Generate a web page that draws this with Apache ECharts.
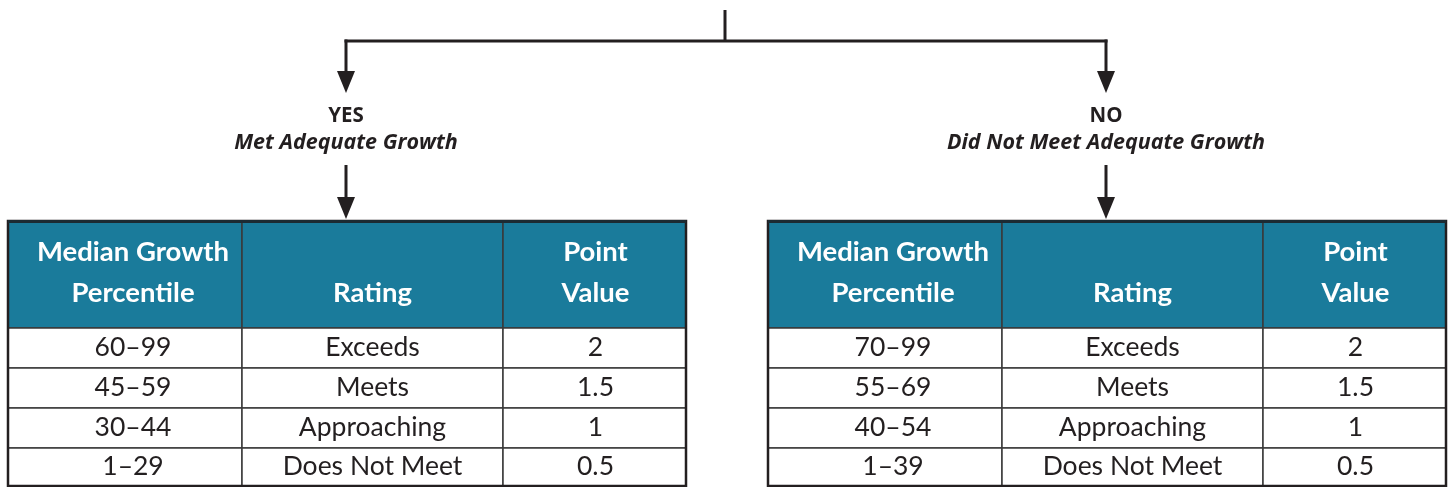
<!DOCTYPE html>
<html>
<head>
<meta charset="utf-8">
<script src="https://cdn.jsdelivr.net/npm/echarts@6/dist/echarts.min.js"></script>
<style>
  html, body { margin: 0; padding: 0; background: #fff; }
  #main { width: 1448px; height: 487px; }
</style>
</head>
<body>
<div id="main"></div>
<script>
// data
var branchAnswers = ['YES', 'NO'];
var branchLabels = ['Met Adequate Growth', 'Did Not Meet Adequate Growth'];
var headers = ['Median Growth\nPercentile', 'Rating', 'Point\nValue'];
var metRanges = ['60–99', '45–59', '30–44', '1–29'];
var notMetRanges = ['70–99', '55–69', '40–54', '1–39'];
var ratings = ['Exceeds', 'Meets', 'Approaching', 'Does Not Meet'];
var pointValues = [2, 1.5, 1, 0.5];

var ranges = [metRanges, notMetRanges];

// layout (pixels in the hidden 1448 x 487 axes)
var tableLeft = [8, 768];
var colEdges = [0, 234, 495, 678];
var colTextShift = [8, 0, 1];
var rowEdges = [221, 328, 368, 408, 448, 487];
var branchX = [346, 1106];
var stemX = 725;
var barY = 41;

var ink = '#231f20';
var teal = '#1a7b9b';
var font = 'Lato';
var labelFont = '"Open Sans"';

function cellText(t, r, c) {
    if (r === 0) return headers[c];
    if (c === 0) return ranges[t][r - 1];
    if (c === 1) return ratings[r - 1];
    return String(pointValues[r - 1]);
}

var cells = [];
for (var t = 0; t < 2; t++) {
    for (var r = 0; r < rowEdges.length - 1; r++) {
        for (var c = 0; c < headers.length; c++) {
            cells.push([t, r, c]);
        }
    }
}

function renderCell(params, api) {
    var t = api.value(0), r = api.value(1), c = api.value(2);
    var p0 = api.coord([tableLeft[t] + colEdges[c], rowEdges[r]]);
    var p1 = api.coord([tableLeft[t] + colEdges[c + 1], rowEdges[r + 1]]);
    var head = r === 0;
    var cx = (p0[0] + p1[0]) / 2 + colTextShift[c];
    var txt = head
        ? { x: cx, y: p1[1] - 14, text: cellText(t, r, c), fill: '#fff', font: 'bold 27.5px ' + font,
            align: 'center', verticalAlign: 'bottom', lineHeight: 41 }
        : { x: cx, y: (p0[1] + p1[1]) / 2 - 1, text: cellText(t, r, c), fill: ink, font: '26.5px ' + font,
            align: 'center', verticalAlign: 'middle' };
    return {
        type: 'group',
        children: [
            { type: 'rect', shape: { x: p0[0], y: p0[1], width: p1[0] - p0[0], height: p1[1] - p0[1] },
              style: { fill: head ? teal : '#fff', stroke: '#3a3a3a', lineWidth: 1.5 } },
            { type: 'text', style: txt }
        ]
    };
}

function renderFrame(params, api) {
    var t = api.value(0);
    var p0 = api.coord([tableLeft[t], rowEdges[0]]);
    var p1 = api.coord([tableLeft[t] + colEdges[colEdges.length - 1], rowEdges[rowEdges.length - 1]]);
    return {
        type: 'group',
        children: [
            { type: 'rect', shape: { x: p0[0], y: p0[1], width: p1[0] - p0[0], height: p1[1] - p0[1] - 1 },
              style: { fill: 'none', stroke: ink, lineWidth: 2.5 } },
            { type: 'line', shape: { x1: p0[0], y1: p0[1] + 0.5, x2: p1[0], y2: p0[1] + 0.5 },
              style: { stroke: '#1c2b33', lineWidth: 3 } }
        ]
    };
}

function arrow(x, y1, y2) {
    return [
        { type: 'line', shape: { x1: x, y1: y1, x2: x, y2: y2 - 18 }, style: { stroke: ink, lineWidth: 3 } },
        { type: 'polygon', shape: { points: [[x - 9, y2 - 22], [x + 9, y2 - 22], [x, y2]] }, style: { fill: ink } }
    ];
}

function renderBranch(params, api) {
    var b = api.value(0);
    var top = api.coord([branchX[b], barY]);
    var x = top[0];
    var ch = [];
    ch = ch.concat(arrow(x, top[1] - 1.5, api.coord([0, 93])[1]));
    ch.push({ type: 'text', style: { x: x, y: api.coord([0, 116])[1], text: branchAnswers[b], fill: ink,
        font: 'bold 20.5px ' + labelFont, align: 'center', verticalAlign: 'middle' } });
    ch.push({ type: 'text', style: { x: x, y: api.coord([0, 143])[1], text: branchLabels[b], fill: ink,
        font: 'italic bold 21.5px ' + labelFont, align: 'center', verticalAlign: 'middle' } });
    ch = ch.concat(arrow(x, api.coord([0, 165])[1], api.coord([0, 219])[1]));
    if (b === 0) {
        var s0 = api.coord([stemX, 10]);
        var s1 = api.coord([stemX, barY]);
        var e = api.coord([branchX[1], barY]);
        ch.push({ type: 'line', shape: { x1: s0[0], y1: s0[1], x2: s1[0], y2: s1[1] }, style: { stroke: ink, lineWidth: 3 } });
        ch.push({ type: 'line', shape: { x1: x - 1.5, y1: top[1], x2: e[0] + 1.5, y2: e[1] }, style: { stroke: ink, lineWidth: 3 } });
    }
    return { type: 'group', children: ch };
}

var chart = echarts.init(document.getElementById('main'));
chart.setOption({
    backgroundColor: '#fff',
    animation: false,
    grid: { left: 0, right: 0, top: 0, bottom: 0 },
    xAxis: { type: 'value', min: 0, max: 1448, show: false },
    yAxis: { type: 'value', min: 0, max: 487, inverse: true, show: false },
    series: [
        { type: 'custom', name: 'cells', renderItem: renderCell, data: cells, silent: true },
        { type: 'custom', name: 'frames', renderItem: renderFrame, data: [[0], [1]], silent: true },
        { type: 'custom', name: 'flow', renderItem: renderBranch, data: [[0], [1]], silent: true }
    ]
});
</script>
</body>
</html>
